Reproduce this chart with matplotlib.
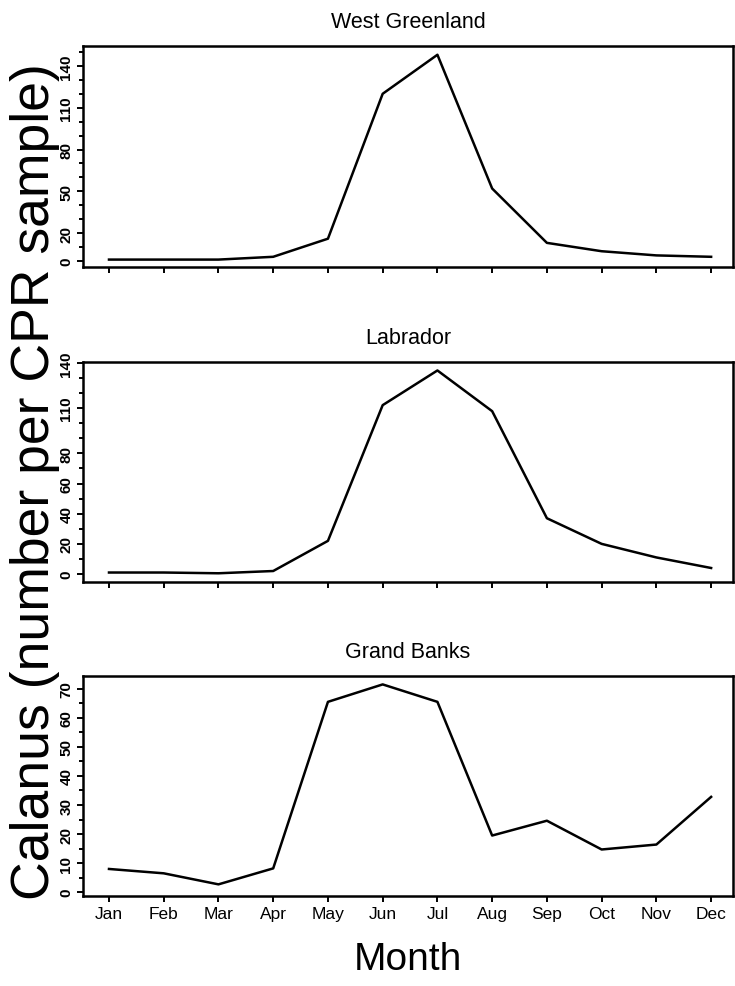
import numpy as np
import matplotlib
matplotlib.use("Agg")
import matplotlib.pyplot as plt
from matplotlib.ticker import MultipleLocator, FixedLocator

plt.rcParams['font.family'] = ['Liberation Sans', 'DejaVu Sans']

months = ['Jan', 'Feb', 'Mar', 'Apr', 'May', 'Jun', 'Jul', 'Aug', 'Sep', 'Oct', 'Nov', 'Dec']
west_greenland = [1, 1, 1, 3, 16, 120, 148, 52, 13, 7, 4, 3]
labrador = [1, 1, 0.5, 2, 22, 112, 135, 108, 37, 20, 11, 4]
grand_banks = [8, 6.5, 2.7, 8.2, 65.5, 71.5, 65.5, 19.5, 24.6, 14.7, 16.4, 32.8]

wg_ticks = [0, 20, 50, 80, 110, 140]
lab_ticks = [0, 20, 40, 60, 80, 110, 140]
gb_ticks = [0, 10, 20, 30, 40, 50, 60, 70]

fig = plt.figure(figsize=(7.35, 9.87), dpi=100)

# panel boxes in figure fraction (left, bottom, width, height)
panels = [
    ("West Greenland", west_greenland, wg_ticks, 10, (-4.3, 154.3), (0.1129, 0.7285, 0.8844, 0.2239)),
    ("Labrador", labrador, lab_ticks, 10, (-5.3, 140.6), (0.1129, 0.4093, 0.8844, 0.2229)),
    ("Grand Banks", grand_banks, gb_ticks, 5, (-1.3, 74.4), (0.1129, 0.0912, 0.8844, 0.2229)),
]

x = np.arange(1, 13)
for i, (name, vals, ticks, minor, ylim, box) in enumerate(panels):
    ax = fig.add_axes(box)
    ax.plot(x, vals, color='black', lw=1.8)
    ax.set_xlim(0.525, 12.4)
    ax.set_ylim(*ylim)
    ax.yaxis.set_major_locator(FixedLocator(ticks))
    ax.yaxis.set_minor_locator(MultipleLocator(minor))
    ax.set_yticklabels([str(t) for t in ticks], rotation=90, va='center',
                       fontsize=11, fontweight='bold')
    ax.set_xticks(x)
    if i == 2:
        ax.set_xticklabels(months, fontsize=12.5)
    else:
        ax.set_xticklabels([])
    ax.tick_params(axis='both', which='both', direction='out', width=1.4,
                   length=4, pad=3)
    ax.tick_params(axis='y', which='minor', length=3)
    for s in ax.spines.values():
        s.set_linewidth(1.8)
    ax.set_title(name, fontsize=15.5, pad=14)

fig.text(0.047, 0.512, 'Calanus (number per CPR sample)', rotation=90,
         ha='center', va='center', fontsize=38.5)
fig.text(0.555, 0.027, 'Month', ha='center', va='center', fontsize=28)

fig.savefig('out.png', dpi=100)
